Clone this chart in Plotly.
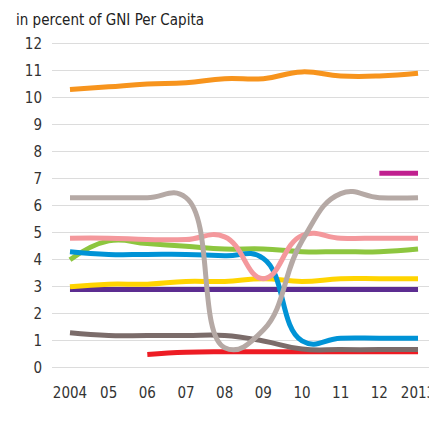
import plotly.graph_objects as go

# Years on the x axis and their tick labels
years = [2004, 2005, 2006, 2007, 2008, 2009, 2010, 2011, 2012, 2013]
year_labels = ["2004", "05", "06", "07", "08", "09", "10", "11", "12", "2013"]

# Values in percent of GNI per capita, one list per line
orange = [10.3, 10.4, 10.5, 10.55, 10.7, 10.7, 10.95, 10.8, 10.8, 10.9]
light_gray = [6.3, 6.3, 6.3, 6.3, 0.75, 1.4, 4.7, 6.45, 6.3, 6.3]
pink = [4.8, 4.8, 4.75, 4.75, 4.85, 3.3, 4.9, 4.8, 4.8, 4.8]
green = [4.0, 4.7, 4.6, 4.5, 4.4, 4.4, 4.3, 4.3, 4.3, 4.4]
blue = [4.3, 4.2, 4.2, 4.2, 4.15, 4.05, 1.0, 1.1, 1.1, 1.1]
yellow = [3.0, 3.1, 3.1, 3.2, 3.2, 3.3, 3.2, 3.3, 3.3, 3.3]
purple = [2.9, 2.9, 2.9, 2.9, 2.9, 2.9, 2.9, 2.9, 2.9, 2.9]
dark_gray = [1.3, 1.2, 1.2, 1.2, 1.2, 1.0, 0.7, 0.68, 0.68, 0.68]
red = [None, None, 0.5, 0.58, 0.6, 0.6, 0.6, 0.6, 0.6, 0.6]
magenta = [None, None, None, None, None, None, None, None, 7.2, 7.2]

y_ticks = list(range(0, 13))

series = [
    ("Series 1", purple, "#5c2d91"),
    ("Series 2", yellow, "#ffd400"),
    ("Series 3", red, "#ed1c24"),
    ("Series 4", dark_gray, "#7b6c6a"),
    ("Series 5", green, "#8dc63f"),
    ("Series 6", blue, "#0093d6"),
    ("Series 7", pink, "#f4989c"),
    ("Series 8", light_gray, "#b5a9a5"),
    ("Series 9", orange, "#f7941d"),
    ("Series 10", magenta, "#c0208f"),
]

fig = go.Figure()
for name, values, color in series:
    fig.add_trace(go.Scatter(
        x=years, y=values, name=name, mode="lines",
        line=dict(color=color, width=5, shape="spline", smoothing=1.3),
        connectgaps=False, showlegend=False, hoverinfo="skip",
    ))

font_family = "DejaVu Sans Condensed, Liberation Sans Narrow, sans-serif"

fig.update_layout(
    width=429, height=421,
    margin=dict(l=52, r=0, t=40, b=46),
    paper_bgcolor="white", plot_bgcolor="white",
    font=dict(family=font_family, size=15, color="#333333"),
    xaxis=dict(
        range=[2003.535, 2013.284],
        tickmode="array", tickvals=years, ticktext=year_labels,
        showgrid=False, zeroline=False, showline=False,
        ticks="outside", ticklen=4, tickcolor="rgba(0,0,0,0)",
        automargin=False, ticklabeloverflow="allow",
        tickfont=dict(size=15, color="#333333"),
    ),
    yaxis=dict(
        range=[-0.26, 12.13],
        tickmode="array", tickvals=y_ticks,
        showgrid=True, gridcolor="#dcdcdc", gridwidth=1,
        zeroline=False, showline=False,
        ticks="outside", ticklen=6, tickcolor="rgba(0,0,0,0)",
        automargin=False,
        tickfont=dict(size=15, color="#333333"),
    ),
    annotations=[dict(
        text="in percent of GNI Per Capita",
        xref="paper", yref="paper", x=-0.1, y=1.0, yshift=9,
        xanchor="left", yanchor="bottom", showarrow=False,
        font=dict(family=font_family, size=15, color="#222222"),
    )],
)

fig.write_html("out.html")
